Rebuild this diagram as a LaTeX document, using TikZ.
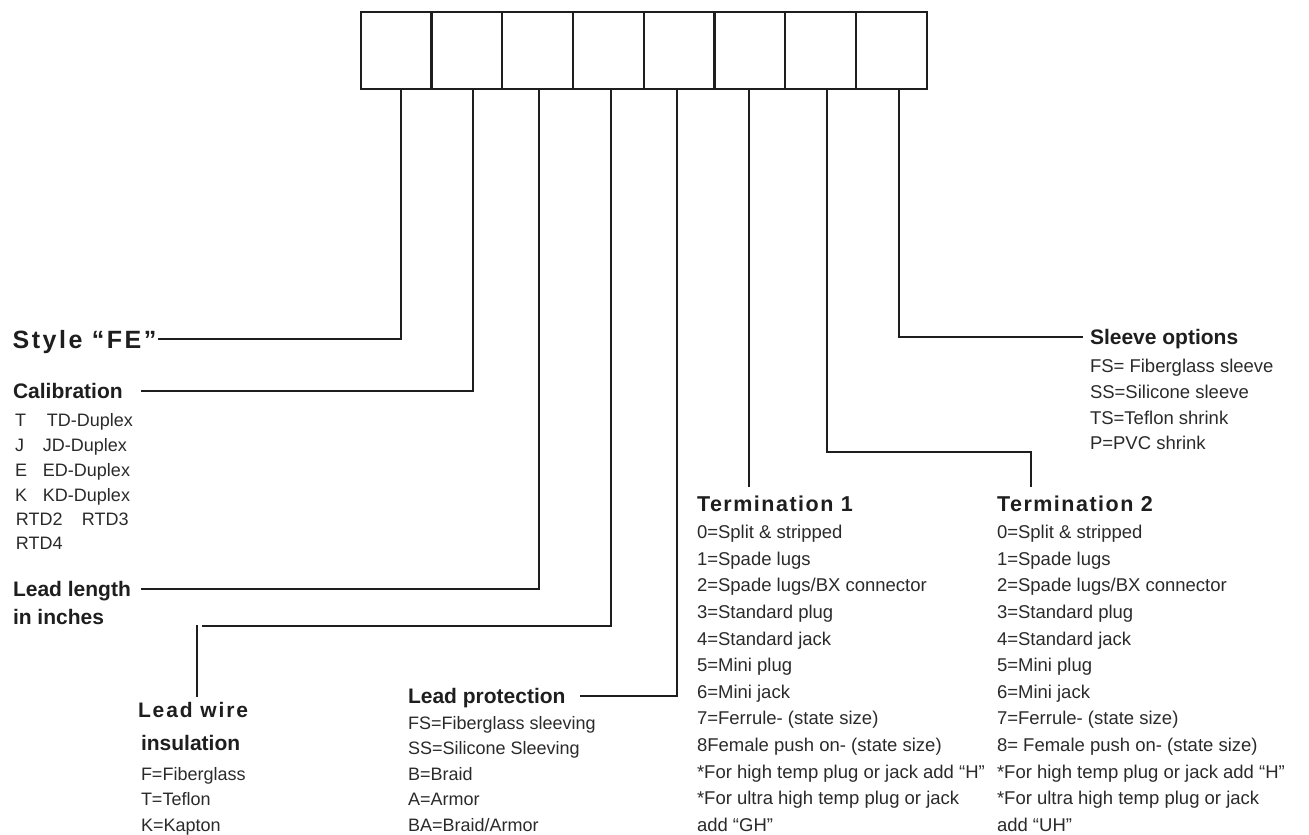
\documentclass[tikz,border=0pt]{standalone}
\usepackage{fontspec}
\setmainfont{Liberation Sans}
\usetikzlibrary{calc}
\definecolor{ink}{HTML}{1E1E1E}
\definecolor{txt}{HTML}{2A2A2A}
\begin{document}
\begin{tikzpicture}[x=1pt,y=-1pt,
  wire/.style={draw=ink, line width=2.2pt},
  cell/.style={draw=ink, line width=2.2pt, minimum width=70.75pt, minimum height=77.6pt,
    inner sep=0pt, outer sep=0pt, anchor=north west},
  head/.style={font=\fontsize{21}{21}\selectfont\bfseries, text=ink, inner sep=0pt,
    outer sep=0pt, anchor=west, text height=15pt, text depth=0pt},
  item/.style={font=\fontsize{18}{18}\selectfont, text=txt, inner sep=0pt,
    outer sep=0pt, anchor=west, text height=12.9pt, text depth=0pt},
  termitem/.style={item, font=\fontsize{18.5}{18.5}\selectfont, text height=13.2pt},
  termhead/.style={head, font=\fontsize{21.5}{21.5}\selectfont\bfseries\addfontfeature{LetterSpace=7}}
]
\useasboundingbox (0,0) rectangle (1309,835);

% the eight code boxes
\foreach \i in {1,...,8}
  \node[cell] (b\i) at ({360.7+(\i-1)*70.75},11.7) {};

% lead-off points under each box
\foreach \i/\dx in {1/4.9, 2/6.2, 3/1.4, 4/2.7, 5/-2.1, 6/-0.8, 7/6.4, 8/7.7}
  \coordinate (p\i) at ([xshift=\dx pt]b\i.south);

% style
\node[head, font=\fontsize{25}{25}\selectfont\bfseries\addfontfeature{LetterSpace=10},
  text height=18pt] (style) at (12.7,339) {Style “FE”};
\draw[wire] (p1) |- ([xshift=2pt]style.east);

% calibration
\node[head] (cal) at (13,391) {Calibration};
\draw[wire] (p2) |- ([xshift=18pt]cal.east);
\node[item] (c1) at (15,420) {\makebox[32pt][l]{T}TD-Duplex};
\node[item] (c2) at (15,445) {\makebox[28pt][l]{J}JD-Duplex};
\node[item] (c3) at (15,470) {\makebox[28pt][l]{E}ED-Duplex};
\node[item] (c4) at (15,495) {\makebox[28pt][l]{K}KD-Duplex};
\node[item] (c5) at (16,519) {\makebox[66pt][l]{RTD2}RTD3};
\node[item] (c6) at (16,543) {RTD4};

% lead length
\node[head] (len) at (13,589) {Lead length};
\node[head] (len2) at (13,617) {in inches};
\draw[wire] (p3) |- ([xshift=10pt]len.east);

% lead wire insulation
\coordinate (lwh) at (202,626);
\coordinate (lwv) at (197,625);
\node[head, font=\fontsize{21}{21}\selectfont\bfseries\addfontfeature{LetterSpace=9}]
  (lw) at (138,710) {Lead wire};
\node[head] (ins) at (141,743) {insulation};
\draw[wire] (p4) |- (lwh);
\draw[wire] (lwv) -- ($(lwv |- lw.north)+(0,-5.5)$);
\foreach [count=\k from 0] \t in {{F=Fiberglass},{T=Teflon},{K=Kapton}}
  \node[item] (lwi\k) at (141,{774+25.5*\k}) {\t};

% lead protection
\node[head] (prot) at (408,696) {Lead protection};
\draw[wire] (p5) |- ([xshift=14pt]prot.east);
\foreach [count=\k from 0] \t in {{FS=Fiberglass sleeving},{SS=Silicone Sleeving},
    {B=Braid},{A=Armor},{BA=Braid/Armor}}
  \node[item] (lp\k) at (408,{723+25.5*\k}) {\t};

% termination 1
\node[termhead] (t1) at (697,504) {Termination 1};
\draw[wire] (p6) -- ($(p6 |- t1.north)+(0,-10)$);
\foreach [count=\k from 0] \t in {{0=Split \& stripped},{1=Spade lugs},
    {2=Spade lugs/BX connector},{3=Standard plug},{4=Standard jack},{5=Mini plug},
    {6=Mini jack},{7=Ferrule- (state size)},{8Female push on- (state size)},
    {*For high temp plug or jack add “H”},{*For ultra high temp plug or jack},
    {add “GH”}}
  \node[termitem] (ta\k) at (697,{532+26.6*\k}) {\t};

% termination 2
\coordinate (hook) at (1031,452);
\node[termhead] (t2) at (997,504) {Termination 2};
\draw[wire] (p7) |- (hook) -- ($(hook |- t2.north)+(0,-10)$);
\foreach [count=\k from 0] \t in {{0=Split \& stripped},{1=Spade lugs},
    {2=Spade lugs/BX connector},{3=Standard plug},{4=Standard jack},{5=Mini plug},
    {6=Mini jack},{7=Ferrule- (state size)},{8= Female push on- (state size)},
    {*For high temp plug or jack add “H”},{*For ultra high temp plug or jack},
    {add “UH”}}
  \node[termitem] (tb\k) at (997,{532+26.6*\k}) {\t};

% sleeve options
\node[head] (slv) at (1090,337) {Sleeve options};
\draw[wire] (p8) |- ([xshift=-7pt]slv.west);
\foreach [count=\k from 0] \t in {{FS= Fiberglass sleeve},{SS=Silicone sleeve},
    {TS=Teflon shrink},{P=PVC shrink}}
  \node[termitem] (sl\k) at (1090,{366+25.7*\k}) {\t};
\end{tikzpicture}
\end{document}
